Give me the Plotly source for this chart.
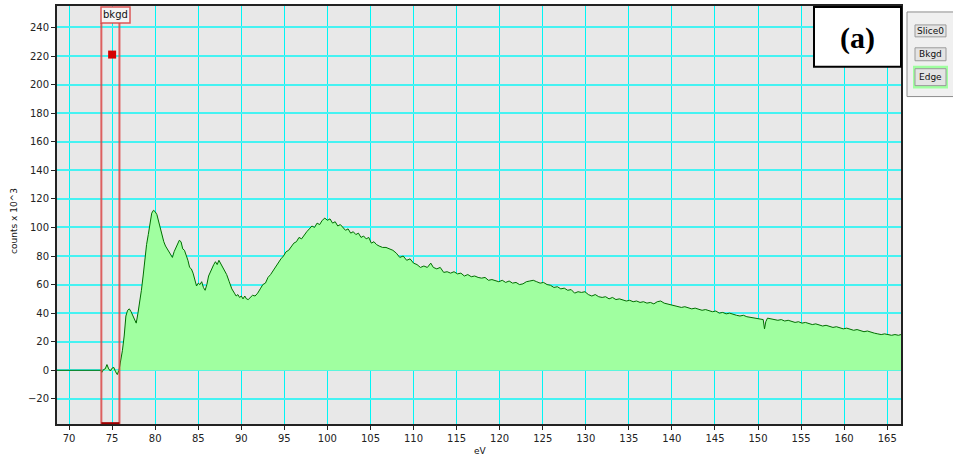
import plotly.graph_objects as go

# ---------------- data ----------------
ev = [68.6, 73.7, 73.8, 74.0, 74.2, 74.4, 74.6, 74.8, 75.0, 75.2, 75.4, 75.6, 75.8,
      76.0, 76.2, 76.4, 76.6, 76.8, 77.0, 77.2, 77.4, 77.6, 77.8, 78.0, 78.2, 78.4,
      78.6, 78.8, 79.0, 79.2, 79.4, 79.6, 79.8, 80.0, 80.2, 80.4, 80.6, 80.8, 81.0,
      81.2, 81.5, 81.8, 82.0, 82.2, 82.4, 82.6, 82.8, 83.0, 83.2, 83.4, 83.6, 83.8,
      84.0, 84.2, 84.4, 84.6, 84.8, 85.0, 85.2, 85.4, 85.6, 85.8, 86.0, 86.2, 86.4,
      86.6, 86.8, 87.0, 87.2, 87.4, 87.6, 87.8, 88.0, 88.3, 88.6, 88.9, 89.2, 89.4,
      89.6, 89.8, 90.0, 90.2, 90.4, 90.6, 90.8, 91.0, 91.3, 91.6, 91.9, 92.2, 92.5,
      92.8, 93.1, 93.4, 93.7, 94.0, 94.3, 94.6, 94.9, 95.2, 95.5, 95.8, 96.1, 96.4,
      96.7, 97.0, 97.3, 97.6, 97.9, 98.2, 98.5, 98.8, 99.1, 99.4, 99.7, 100.0, 100.3,
      100.6, 100.9, 101.2, 101.5, 101.8, 102.1, 102.4, 102.7, 103.0, 103.3, 103.6,
      103.9, 104.2, 104.5, 104.8, 105.1, 105.4, 105.7, 106.0, 106.4, 106.8, 107.2,
      107.6, 108.0, 108.4, 108.8, 109.2, 109.6, 110.0, 110.4, 110.8, 111.2, 111.6,
      112.0, 112.3, 112.7, 113.1, 113.5, 113.9, 114.3, 114.7, 115.1, 115.5, 115.9,
      116.3, 116.7, 117.1, 117.5, 117.9, 118.3, 118.7, 119.1, 119.5, 119.9, 120.3,
      120.7, 121.1, 121.5, 121.9, 122.3, 122.7, 123.1, 123.5, 123.9, 124.3, 124.7,
      125.1, 125.5, 125.9, 126.3, 126.7, 127.1, 127.5, 127.9, 128.3, 128.7, 129.1,
      129.5, 129.9, 130.3, 130.7, 131.1, 131.5, 131.9, 132.3, 132.7, 133.1, 133.5,
      133.9, 134.3, 134.7, 135.1, 135.5, 135.9, 136.3, 136.7, 137.1, 137.5, 137.9,
      138.3, 138.7, 139.1, 139.5, 139.9, 140.3, 140.7, 141.1, 141.5, 141.9, 142.3,
      142.7, 143.1, 143.5, 143.9, 144.3, 144.7, 145.1, 145.5, 145.9, 146.3, 146.7,
      147.1, 147.5, 147.9, 148.3, 148.7, 149.1, 149.5, 149.9, 150.3, 150.6, 150.75,
      150.9, 151.1, 151.5, 151.9, 152.3, 152.7, 153.1, 153.5, 153.9, 154.3, 154.7,
      155.1, 155.5, 155.9, 156.3, 156.7, 157.1, 157.5, 157.9, 158.3, 158.7, 159.1,
      159.5, 159.9, 160.3, 160.7, 161.1, 161.5, 161.9, 162.3, 162.7, 163.1, 163.5,
      163.9, 164.3, 164.7, 165.1, 165.5, 165.9, 166.3, 166.6]

counts = [0, 0, -1.5, 0.5, 1, 4, 1, -0.5, 1.5, 2, -1, -3, 0,
          6, 14, 24, 38, 42, 43, 41, 38, 35, 33, 40, 47, 56,
          66, 78, 88, 95, 103, 110, 112, 111, 109, 104, 98, 93, 90,
          87, 84, 82, 79, 83, 86, 89, 91, 90, 85, 84, 81, 77,
          72, 71, 68, 64, 59, 61, 60, 62, 58, 56, 60, 66, 69,
          71, 74, 76, 74, 77, 75, 73, 71, 67, 62, 57, 54, 52,
          53, 51, 52, 50, 52, 50, 49.5, 51, 52.5, 52, 54, 57, 60,
          61, 65, 67, 70, 72, 75, 78, 80, 83, 84, 87, 89, 90,
          93, 92, 95, 97, 99, 101, 100, 103, 102, 105, 106.5, 105, 106,
          103, 104, 101, 102, 100, 98, 99, 96, 97, 95, 96,
          93, 94, 92, 93, 89, 90, 88, 87, 86, 86, 85,
          84, 82, 79, 80, 77, 78, 75, 74, 72, 73, 72,
          75, 72, 71, 72, 68.5, 69, 68, 69, 67.5, 68, 66,
          67, 65.5, 66, 65, 64.5, 65, 63, 63.5, 63, 62, 63,
          61.5, 62.5, 61, 61.5, 60, 60.5, 62, 62.5, 63, 62, 61,
          61.5, 60, 59.5, 58, 58.5, 57, 57.5, 56, 56.5, 54, 55,
          54.5, 55, 53, 52, 53, 51.5, 51, 51.5, 50, 51, 49.5,
          50, 49, 48.5, 49, 48, 48.5, 47.5, 48, 47, 47.5, 46.5,
          48, 48.5, 47, 46.5, 46, 45.5, 45, 44, 44.5, 44, 43,
          43.5, 42.5, 42, 42.5, 41.5, 41, 41.5, 40, 40.5, 39.5, 40,
          39, 38.5, 38, 38.5, 37.5, 37, 36.5, 36.5, 36, 35.5, 29,
          34, 36.5, 36, 35.5, 35, 35.5, 34.5, 35, 34, 33.5, 34,
          33, 33.5, 32.5, 32, 32.5, 31.5, 31, 31.5, 30.5, 30, 30.5,
          29.5, 29, 29.5, 28.5, 28, 28.5, 27.5, 27, 27.5, 26.5, 26,
          25.5, 25, 25.5, 25, 24.5, 25, 24.5, 25]

x_ticks = list(range(70, 166, 5))
y_ticks = list(range(-20, 241, 20))

bkgd_start = 73.75
bkgd_end = 75.85
marker_x = [75.0]
marker_y = [221]

# ---------------- layout helpers ----------------
W, H = 953, 461
L, R, T, B = 57, 901, 4, 424


def px(x):
    return (x - L) / (R - L)


def py(y):
    return (B - y) / (B - T)


fig = go.Figure()

fig.add_trace(go.Scatter(
    x=ev, y=counts, mode="lines", fill="tozeroy",
    fillcolor="#A0FFA0", line=dict(color="#006E00", width=1),
    hoverinfo="skip", showlegend=False))

fig.add_trace(go.Scatter(
    x=marker_x, y=marker_y, mode="markers",
    marker=dict(symbol="square", size=8, color="#D40000"),
    showlegend=False, hoverinfo="skip"))

font_fam = "DejaVu Sans, Verdana, sans-serif"

fig.update_layout(
    width=W, height=H,
    margin=dict(l=L, r=W - R, t=T, b=H - B),
    paper_bgcolor="white",
    plot_bgcolor="#E8E8E8",
    font=dict(family=font_fam, size=10, color="#222"),
    xaxis=dict(range=[68.6, 166.6], tickvals=x_ticks, ticks="outside",
               ticklen=4, tickcolor="#222", showgrid=True,
               gridcolor="#00F5F5", gridwidth=1, zeroline=False,
               showline=True, linecolor="#222", linewidth=2, mirror=True,
               tickfont=dict(size=10)),
    yaxis=dict(range=[-37.6, 255], tickvals=y_ticks, ticks="outside",
               ticklen=4, tickcolor="#222", showgrid=True,
               gridcolor="#45F2F2", gridwidth=2, zeroline=False,
               showline=True, linecolor="#222", linewidth=2, mirror=True,
               tickfont=dict(size=10)),
)

shapes = []
ann = []

# background window markers
for xv in (bkgd_start, bkgd_end):
    shapes.append(dict(type="line", xref="x", yref="paper", x0=xv, x1=xv,
                       y0=0, y1=py(21), line=dict(color="rgba(218,70,70,0.85)", width=2)))
shapes.append(dict(type="line", xref="x", yref="paper", x0=bkgd_start, x1=bkgd_end,
                   y0=0.002, y1=0.002, line=dict(color="#A00000", width=2)))
shapes.append(dict(type="rect", xref="paper", yref="paper", x0=px(101), x1=px(130),
                   y0=py(21), y1=py(5), fillcolor="#F4F4F4",
                   line=dict(color="rgba(218,70,70,0.9)", width=1.5)))
ann.append(dict(x=px(115.5), y=py(13), xref="paper", yref="paper", text="bkgd",
                showarrow=False, font=dict(size=10, color="#111"),
                xanchor="center", yanchor="middle"))

# (a) label box
shapes.append(dict(type="rect", xref="paper", yref="paper", x0=px(814), x1=px(901),
                   y0=py(65), y1=py(5), fillcolor="white",
                   line=dict(color="black", width=2)))
ann.append(dict(x=px(857), y=py(36), xref="paper", yref="paper", text="<b>(a)</b>",
                showarrow=False, font=dict(family="Liberation Serif, Times New Roman, serif",
                                           size=30, color="black"),
                xanchor="center", yanchor="middle"))

# side button panel
shapes.append(dict(type="rect", xref="paper", yref="paper", x0=px(907), x1=px(960),
                   y0=py(95), y1=py(10), fillcolor="#F0F0F0",
                   line=dict(color="#8C8C8C", width=1)))
shapes.append(dict(type="rect", xref="paper", yref="paper", x0=px(913), x1=px(948),
                   y0=py(87), y1=py(64), fillcolor="#A0FFA0",
                   line=dict(color="#A0FFA0", width=0)))
buttons = [("Slice0", 23, 35), ("Bkgd", 46, 59), ("Edge", 67, 84)]
for label, y0, y1 in buttons:
    shapes.append(dict(type="rect", xref="paper", yref="paper", x0=px(915), x1=px(946),
                       y0=py(y1), y1=py(y0), fillcolor="#E4E4E4",
                       line=dict(color="#9A9A9A", width=1)))
    ann.append(dict(x=px(930.5), y=py((y0 + y1) / 2), xref="paper", yref="paper",
                    text=label, showarrow=False, font=dict(size=9, color="#111"),
                    xanchor="center", yanchor="middle"))

# axis titles
ann.append(dict(x=px(14), y=py(220), xref="paper", yref="paper", text="counts x 10^3",
                textangle=-90, showarrow=False, font=dict(size=9, color="#111"),
                xanchor="center", yanchor="middle"))
ann.append(dict(x=px(480), y=py(451), xref="paper", yref="paper", text="eV",
                showarrow=False, font=dict(size=9, color="#111"),
                xanchor="center", yanchor="middle"))

fig.update_layout(shapes=shapes, annotations=ann)

fig.write_html("out.html")
